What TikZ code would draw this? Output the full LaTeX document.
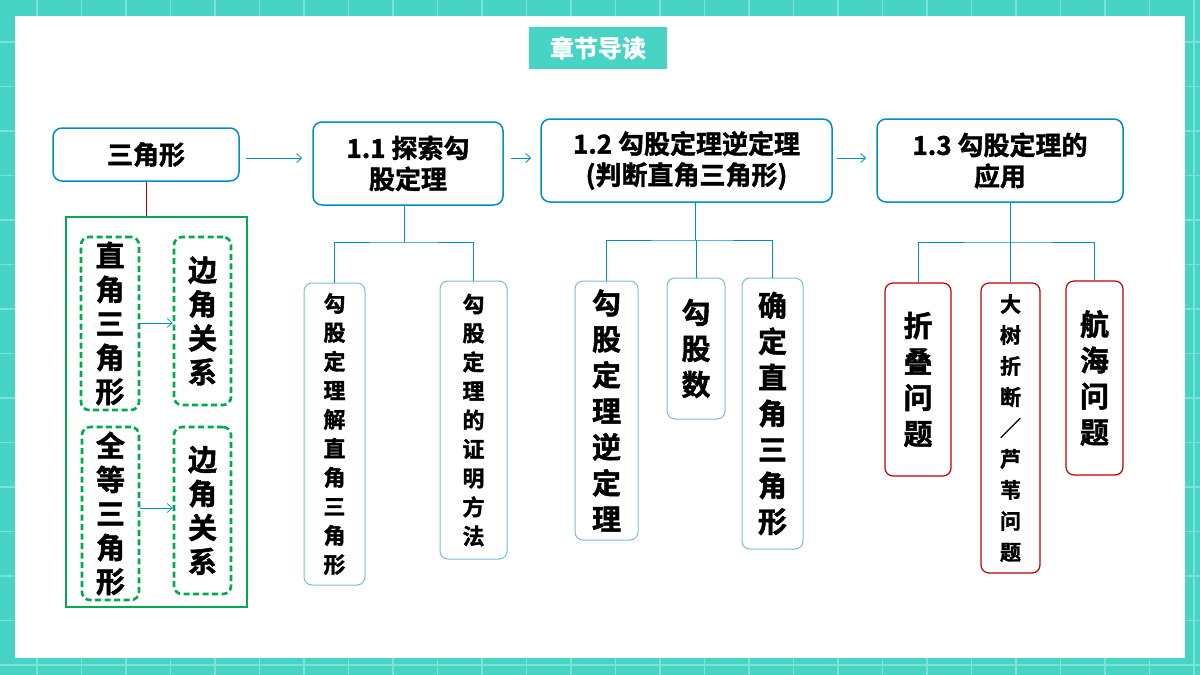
\documentclass[tikz,border=0pt]{standalone}
\usepackage{fontspec}
\setmainfont{Noto Sans CJK SC}[BoldFont={Noto Sans CJK SC Bold},BoldFeatures={FakeBold=1.5}]
\usetikzlibrary{arrows.meta}
\definecolor{teal1}{RGB}{72,212,196}
\definecolor{teal2}{RGB}{120,228,214}
\definecolor{bblue}{RGB}{0,140,205}
\definecolor{lblue}{RGB}{120,190,215}
\definecolor{gr}{RGB}{0,170,80}
\definecolor{rd}{RGB}{190,0,0}
\tikzset{
 x=1pt,y=-1pt,
 mainbox/.style={draw=bblue,line width=1.5pt,rounded corners=9pt,fill=white,font=\bfseries\fontsize{26}{31}\selectfont,align=center,inner sep=0pt},
 child/.style={draw=lblue,line width=1pt,rounded corners=8pt,fill=white,font=\bfseries,align=center,inner sep=0pt},
 redc/.style={draw=rd,line width=1.2pt,rounded corners=8pt,fill=white,font=\bfseries,align=center,inner sep=0pt},
 dbox/.style={draw=gr,line width=2.6pt,dash pattern=on 6pt off 3.5pt,rounded corners=8pt,font=\bfseries\fontsize{29}{34}\selectfont,align=center,inner sep=0pt},
 conn/.style={draw=bblue,line width=0.8pt},
 arr/.style={conn,-{Straight Barb[length=5pt,width=9pt]}},
}
\newcommand{\bx}[6]{\node[#1,minimum width=#4-#2,minimum height=#5-#3] (#6) at ({(#2+#4)/2},{(#3+#5)/2})}
\begin{document}
\begin{tikzpicture}
\useasboundingbox (0,0) rectangle (1200,675);
\fill[teal1] (0,0) rectangle (1200,675);
\foreach \i in {0,...,27} \draw[teal2,line width=1.2pt] ({\i*44.5+37},0) -- ({\i*44.5+37},675);
\foreach \i in {0,...,15} \draw[teal2,line width=1.2pt] (0,{\i*44.5+42}) -- (1200,{\i*44.5+42});
\fill[white] (15,16) rectangle (1185,658);
% title
\bx{fill=teal1,text=white,font=\bfseries\fontsize{24}{28}\selectfont}{529}{27}{667}{69}{title} {章节导读};
% main boxes
\bx{mainbox}{53}{128}{239}{181}{tri} {三角形};
\bx{mainbox}{313}{122}{503}{205}{m1} {1.1 探索勾\\股定理};
\bx{mainbox}{541}{119}{832}{202}{m2} {1.2 勾股定理逆定理\\(判断直角三角形)};
\bx{mainbox}{877}{119}{1123}{202}{m3} {1.3 勾股定理的\\应用};
\coordinate (a1) at (246,158);
\draw[arr] (a1) -- ([xshift=-10pt]m1.west |- a1);
\draw[arr] ([xshift=7pt]m1.east |- a1) -- ([xshift=-9pt]m2.west |- a1);
\draw[arr] ([xshift=4pt]m2.east |- a1) -- ([xshift=-10pt]m3.west |- a1);
% left group
\bx{draw=gr,line width=1.2pt}{66}{217}{247}{607}{grp} {};
\draw[rd,line width=1pt] (tri.south) -- (grp.north -| tri.south);
\bx{dbox}{81}{237}{139}{410}{d1} {直\\角\\三\\角\\形};
\bx{dbox}{174}{237}{231}{405}{d2} {边\\角\\关\\系};
\bx{dbox}{82}{427}{139}{600}{d3} {全\\等\\三\\角\\形};
\bx{dbox}{174}{427}{231}{594}{d4} {边\\角\\关\\系};
\draw[arr,line width=0.7pt] (d1.east |- 0,323) -- (d2.west |- 0,323);
\draw[arr,line width=0.7pt] (d3.east |- 0,508) -- (d4.west |- 0,508);
% 1.1 children
\bx{child,font=\bfseries\fontsize{22}{29}\selectfont}{304}{283}{365}{585}{c11} {勾\\股\\定\\理\\解\\直\\角\\三\\角\\形};
\bx{child,font=\bfseries\fontsize{22}{29}\selectfont}{440}{281}{507}{559}{c12} {勾\\股\\定\\理\\的\\证\\明\\方\\法};
\coordinate (j1) at (404,242);
\draw[conn] (m1.south -| j1) -- (j1) (c11.north) |- (j1) -| (c12.north);
% 1.2 children
\bx{child,font=\bfseries\fontsize{29}{36}\selectfont}{575}{281}{638}{540}{c21} {勾\\股\\定\\理\\逆\\定\\理};
\bx{child,font=\bfseries\fontsize{29}{36}\selectfont}{667}{278}{725}{419}{c22} {勾\\股\\数};
\bx{child,font=\bfseries\fontsize{29}{36}\selectfont}{742}{278}{803}{549}{c23} {确\\定\\直\\角\\三\\角\\形};
\coordinate (j2) at (695,240);
\draw[conn] (m2.south -| j2) -- (j2) (c21.north) |- (j2) -| (c23.north);
\draw[conn] (c22.north) -- (c22.north |- j2);
% 1.3 children
\bx{redc,font=\bfseries\fontsize{29}{36}\selectfont}{885}{283}{951}{476}{c31} {折\\叠\\问\\题};
\bx{redc,font=\bfseries\fontsize{21}{31}\selectfont}{981}{283}{1040}{573}{c32} {大\\树\\折\\断\\／\\芦\\苇\\问\\题};
\bx{redc,font=\bfseries\fontsize{29}{36}\selectfont}{1066}{281}{1123}{475}{c33} {航\\海\\问\\题};
\coordinate (j3) at (1010,242);
\draw[conn] (m3.south -| j3) -- (j3) (c31.north) |- (j3) -| (c33.north);
\draw[conn] (c32.north) -- (c32.north |- j3);
\end{tikzpicture}
\end{document}
